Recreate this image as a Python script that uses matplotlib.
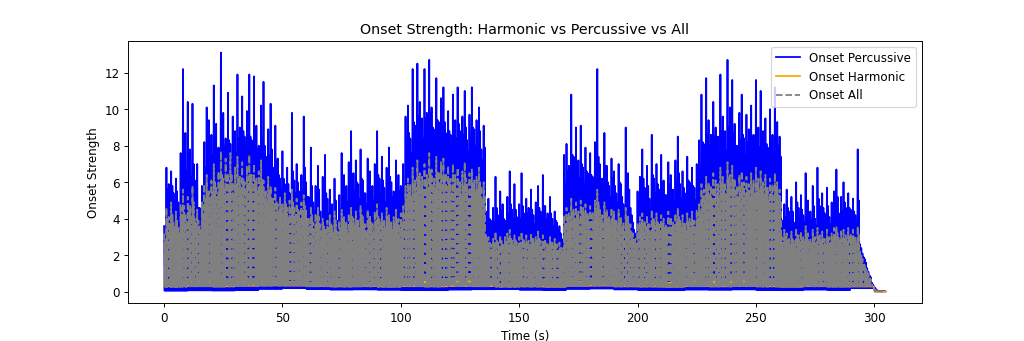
import numpy as np
import matplotlib
matplotlib.use("Agg")
from matplotlib import pyplot as plt

# tallest spike in each second (t = 0 .. 304 s)
PERC_PEAKS = [
    3.6, 6.8, 5.9, 6.6, 5.4, 6.2, 4.9, 7.6, 12.2, 8.7,
    10.4, 7.8, 10.3, 6.1, 7.0, 4.6, 5.8, 8.2, 10.1, 9.4,
    8.6, 11.3, 9.2, 7.9, 13.1, 9.8, 8.4, 10.9, 8.1, 9.6,
    8.8, 11.9, 9.0, 10.7, 8.5, 9.9, 11.9, 8.3, 11.8, 9.1,
    8.0, 10.2, 11.5, 7.4, 8.9, 10.3, 6.8, 9.1, 7.3, 6.2,
    7.7, 5.9, 6.8, 5.4, 9.8, 6.1, 7.0, 5.5, 6.4, 9.6,
    6.0, 5.2, 7.9, 4.9, 5.8, 6.9, 4.4, 6.3, 7.5, 5.1,
    5.6, 4.8, 6.2, 3.9, 5.3, 7.6, 6.4, 5.8, 7.1, 8.8,
    6.5, 7.2, 5.9, 7.8, 6.1, 5.4, 7.3, 6.6, 5.8, 7.0,
    8.8, 6.2, 7.4, 5.7, 6.8, 7.9, 6.0, 5.5, 7.2, 6.4,
    5.8, 7.0, 9.6, 10.2, 8.4, 12.2, 9.1, 12.5, 10.4, 9.5,
    12.2, 9.8, 12.7, 10.1, 8.9, 11.7, 9.3, 10.6, 11.2, 8.7,
    9.9, 8.6, 10.8, 9.4, 11.2, 8.8, 9.6, 11.0, 8.3, 9.7,
    11.2, 8.9, 9.4, 10.1, 7.8, 9.1, 4.4, 5.1, 3.9, 4.6,
    6.3, 4.2, 5.5, 4.8, 3.9, 5.2, 6.6, 4.5, 5.9, 4.1,
    4.8, 6.5, 4.3, 5.1, 4.6, 5.6, 4.2, 4.9, 5.8, 4.4,
    6.4, 4.7, 4.3, 5.2, 4.0, 4.4, 3.8, 3.6, 2.9, 7.5,
    8.1, 6.9, 10.8, 7.4, 9.0, 7.2, 9.1, 6.8, 7.9, 6.5,
    7.6, 6.3, 8.2, 12.2, 7.0, 6.2, 8.7, 6.9, 5.8, 7.3,
    6.6, 5.4, 7.0, 5.9, 4.8, 9.0, 6.5, 4.6, 3.8, 3.2,
    5.5, 6.3, 7.8, 5.7, 6.9, 5.1, 8.6, 6.2, 7.0, 5.6,
    7.5, 6.1, 5.3, 7.1, 6.4, 5.6, 7.2, 8.5, 5.9, 6.6,
    5.4, 7.4, 6.0, 6.8, 5.7, 7.0, 8.3, 10.8, 8.1, 11.7,
    9.4, 8.6, 10.4, 9.0, 8.5, 11.9, 9.6, 8.8, 12.7, 10.1,
    11.6, 9.2, 8.0, 9.8, 10.8, 8.4, 9.7, 8.9, 10.2, 8.6,
    11.6, 9.0, 11.0, 8.8, 9.5, 7.9, 10.0, 8.6, 11.2, 9.3,
    8.5, 3.9, 4.8, 5.6, 4.4, 5.2, 3.8, 6.0, 4.6, 5.3,
    4.2, 6.5, 5.0, 4.4, 5.8, 4.0, 6.8, 4.7, 5.4, 4.3,
    5.7, 4.1, 4.9, 5.5, 6.7, 4.3, 5.2, 6.0, 4.6, 5.4,
    4.5, 5.1, 4.2, 7.8, 2.6, 2.1, 1.8, 1.3, 0.9, 0.5,
    0.3, 0.1, 0.05, 0.05, 0.05,
]

# the dense level the percussive curve keeps hitting in each second
PERC_MIDS = [
    3.0, 5.6, 5.2, 5.8, 4.9, 5.5, 4.6, 6.1, 7.4, 6.6,
    6.9, 6.2, 7.0, 5.3, 4.6, 4.2, 5.1, 6.8, 7.6, 7.9,
    7.5, 8.2, 7.8, 7.1, 8.6, 8.0, 7.4, 8.3, 7.2, 8.1,
    7.6, 8.4, 7.9, 8.8, 7.3, 8.2, 8.5, 7.4, 8.7, 7.8,
    7.1, 8.3, 8.0, 6.7, 7.5, 7.8, 6.0, 7.2, 6.4, 5.6,
    6.2, 5.3, 5.9, 5.0, 6.6, 5.4, 6.0, 4.9, 5.5, 6.8,
    5.2, 4.7, 5.8, 4.4, 5.0, 5.6, 3.9, 4.8, 5.4, 4.3,
    4.6, 4.1, 5.0, 3.4, 4.5, 5.7, 5.3, 4.9, 5.8, 6.3,
    5.5, 6.0, 5.1, 6.2, 5.4, 4.8, 6.0, 5.7, 5.0, 5.9,
    6.4, 5.4, 6.1, 4.9, 5.8, 6.3, 5.2, 4.8, 5.9, 5.5,
    5.0, 5.8, 7.9, 8.7, 7.6, 9.3, 8.2, 9.6, 8.9, 8.4,
    9.5, 8.7, 9.8, 9.0, 8.1, 9.4, 8.5, 9.1, 9.3, 8.0,
    8.8, 7.9, 9.0, 8.4, 9.2, 8.1, 8.6, 9.0, 7.7, 8.5,
    9.0, 8.0, 8.4, 8.8, 7.2, 7.9, 3.6, 4.0, 3.3, 3.8,
    4.6, 3.7, 4.4, 4.0, 3.5, 4.3, 4.8, 3.9, 4.5, 3.6,
    4.0, 4.7, 3.8, 4.3, 3.9, 4.5, 3.7, 4.1, 4.6, 3.8,
    4.7, 4.0, 3.8, 4.3, 3.6, 3.9, 3.4, 3.2, 2.7, 5.9,
    6.6, 5.9, 7.5, 6.3, 7.1, 6.2, 7.0, 5.9, 6.6, 5.8,
    6.4, 5.7, 6.8, 7.4, 6.1, 5.5, 6.9, 6.0, 5.2, 6.2,
    5.8, 4.9, 6.0, 5.2, 4.3, 6.4, 5.6, 4.2, 3.4, 2.9,
    4.8, 5.4, 6.2, 5.0, 5.8, 4.6, 6.4, 5.4, 5.9, 4.9,
    6.0, 5.3, 4.8, 5.9, 5.5, 4.9, 6.0, 6.5, 5.1, 5.7,
    4.8, 6.1, 5.2, 5.8, 5.0, 5.9, 6.6, 8.2, 7.4, 8.6,
    8.0, 7.6, 8.5, 7.9, 7.5, 8.8, 8.2, 7.7, 9.0, 8.4,
    8.7, 8.0, 7.2, 8.3, 8.6, 7.5, 8.2, 7.8, 8.5, 7.6,
    8.8, 7.9, 8.4, 7.7, 8.1, 7.1, 8.3, 7.6, 8.6, 8.0,
    7.4, 3.4, 4.1, 4.6, 3.8, 4.4, 3.5, 4.9, 4.0, 4.5,
    3.8, 5.0, 4.3, 3.9, 4.7, 3.6, 5.1, 4.1, 4.6, 3.8,
    4.7, 3.7, 4.2, 4.6, 5.2, 3.9, 4.4, 4.9, 4.0, 4.6,
    4.0, 4.4, 3.8, 5.0, 2.4, 1.9, 1.6, 1.1, 0.8, 0.4,
    0.2, 0.08, 0.05, 0.05, 0.05,
]

ALL_PEAKS = [
    3.2, 4.6, 4.1, 4.9, 3.8, 4.4, 3.5, 4.8, 5.6, 4.3,
    5.2, 4.7, 5.8, 4.0, 4.5, 3.6, 4.9, 5.9, 6.4, 5.5,
    6.1, 7.0, 5.8, 6.6, 7.7, 6.2, 7.3, 6.5, 7.6, 6.0,
    6.8, 7.4, 6.3, 7.1, 6.0, 6.9, 7.5, 6.4, 7.0, 6.2,
    6.6, 7.2, 6.1, 5.5, 6.3, 5.8, 5.1, 5.7, 4.8, 5.2,
    4.9, 5.4, 4.6, 5.0, 5.6, 4.7, 5.1, 4.4, 4.9, 5.3,
    4.5, 4.1, 4.7, 3.8, 4.3, 4.6, 3.7, 4.0, 3.5, 3.9,
    4.2, 3.6, 4.4, 3.3, 3.9, 4.5, 4.1, 3.8, 4.3, 4.6,
    4.0, 4.4, 3.9, 4.7, 4.1, 3.7, 4.5, 4.2, 3.8, 4.4,
    4.8, 4.0, 4.3, 3.9, 4.6, 4.2, 3.8, 4.1, 4.5, 4.0,
    4.3, 4.7, 5.8, 6.2, 5.9, 6.8, 6.1, 7.2, 6.5, 6.3,
    7.0, 6.4, 7.6, 6.7, 6.2, 7.4, 6.6, 7.1, 7.3, 6.5,
    6.9, 6.2, 7.0, 6.4, 6.8, 6.0, 6.6, 7.1, 5.9, 6.5,
    6.7, 6.1, 6.3, 6.8, 5.8, 6.0, 3.1, 3.0, 2.6, 2.9,
    3.3, 2.8, 3.1, 2.7, 3.0, 3.2, 3.4, 2.8, 3.1, 2.7,
    3.0, 3.3, 2.9, 3.1, 2.8, 3.2, 2.9, 3.0, 3.3, 2.8,
    3.1, 2.9, 2.7, 3.0, 2.8, 2.9, 2.6, 2.7, 2.4, 4.2,
    4.6, 4.3, 5.1, 4.5, 4.9, 4.4, 5.0, 4.6, 4.8, 4.3,
    4.7, 4.4, 5.0, 5.6, 4.6, 4.2, 4.9, 4.5, 4.1, 4.6,
    4.4, 4.0, 4.5, 4.1, 3.8, 4.6, 4.2, 3.7, 3.2, 2.9,
    3.8, 4.1, 4.3, 3.9, 4.2, 3.7, 4.5, 4.0, 4.3, 3.8,
    4.2, 4.0, 3.7, 4.4, 4.1, 3.8, 4.3, 4.6, 3.9, 4.2,
    3.8, 4.3, 4.0, 4.4, 3.9, 4.5, 4.8, 5.9, 5.6, 6.3,
    6.0, 5.8, 6.5, 6.1, 5.9, 6.8, 6.3, 6.0, 7.1, 6.4,
    6.9, 6.2, 5.8, 6.4, 6.6, 6.0, 6.3, 5.9, 6.5, 6.1,
    6.8, 6.2, 6.6, 6.0, 6.4, 5.7, 6.2, 5.9, 6.5, 6.0,
    5.6, 3.0, 3.4, 3.2, 2.9, 3.3, 2.8, 3.5, 3.1, 3.3,
    3.0, 3.6, 3.2, 2.9, 3.4, 3.0, 3.5, 3.1, 3.3, 2.9,
    3.4, 3.0, 3.2, 3.5, 3.6, 3.0, 3.3, 3.4, 3.1, 3.5,
    3.2, 3.4, 3.0, 3.6, 2.2, 1.8, 1.5, 1.1, 0.8, 0.4,
    0.15, 0.05, 0.03, 0.03, 0.03,
]

ALL_MIDS = [
    2.8, 4.0, 3.7, 4.3, 3.5, 3.9, 3.2, 4.2, 4.7, 3.9,
    4.5, 4.2, 4.9, 3.7, 3.9, 3.3, 4.3, 5.1, 5.5, 4.9,
    5.4, 6.1, 5.2, 5.8, 6.4, 5.6, 6.2, 5.8, 6.5, 5.4,
    5.9, 6.3, 5.6, 6.2, 5.4, 6.0, 6.4, 5.7, 6.1, 5.5,
    5.8, 6.2, 5.4, 4.9, 5.5, 5.1, 4.6, 5.0, 4.3, 4.6,
    4.4, 4.8, 4.1, 4.5, 4.9, 4.2, 4.5, 4.0, 4.4, 4.7,
    4.0, 3.7, 4.2, 3.4, 3.8, 4.1, 3.3, 3.6, 3.2, 3.5,
    3.7, 3.3, 3.9, 3.0, 3.5, 4.0, 3.7, 3.4, 3.8, 4.1,
    3.6, 3.9, 3.5, 4.2, 3.7, 3.3, 4.0, 3.8, 3.4, 3.9,
    4.2, 3.6, 3.8, 3.5, 4.1, 3.8, 3.4, 3.7, 4.0, 3.6,
    3.8, 4.2, 5.1, 5.5, 5.2, 6.0, 5.4, 6.3, 5.8, 5.6,
    6.2, 5.7, 6.6, 5.9, 5.5, 6.5, 5.8, 6.2, 6.4, 5.7,
    6.1, 5.5, 6.2, 5.7, 6.0, 5.3, 5.8, 6.2, 5.2, 5.7,
    5.9, 5.4, 5.6, 6.0, 5.1, 5.3, 2.8, 2.7, 2.4, 2.6,
    2.9, 2.5, 2.8, 2.4, 2.7, 2.9, 3.0, 2.5, 2.8, 2.4,
    2.7, 2.9, 2.6, 2.8, 2.5, 2.9, 2.6, 2.7, 2.9, 2.5,
    2.8, 2.6, 2.4, 2.7, 2.5, 2.6, 2.3, 2.4, 2.2, 3.7,
    4.1, 3.8, 4.5, 4.0, 4.3, 3.9, 4.4, 4.1, 4.2, 3.8,
    4.2, 3.9, 4.4, 4.9, 4.1, 3.7, 4.3, 4.0, 3.6, 4.1,
    3.9, 3.6, 4.0, 3.6, 3.4, 4.1, 3.7, 3.3, 2.9, 2.6,
    3.4, 3.6, 3.8, 3.5, 3.7, 3.3, 4.0, 3.6, 3.8, 3.4,
    3.7, 3.5, 3.3, 3.9, 3.6, 3.4, 3.8, 4.1, 3.5, 3.7,
    3.4, 3.8, 3.5, 3.9, 3.5, 4.0, 4.3, 5.2, 5.0, 5.6,
    5.3, 5.1, 5.7, 5.4, 5.2, 6.0, 5.6, 5.3, 6.2, 5.7,
    6.1, 5.5, 5.1, 5.7, 5.8, 5.3, 5.6, 5.2, 5.8, 5.4,
    6.0, 5.5, 5.8, 5.3, 5.7, 5.0, 5.5, 5.2, 5.8, 5.3,
    5.0, 2.7, 3.0, 2.8, 2.6, 2.9, 2.5, 3.1, 2.8, 2.9,
    2.7, 3.2, 2.8, 2.6, 3.0, 2.7, 3.1, 2.8, 2.9, 2.6,
    3.0, 2.7, 2.8, 3.1, 3.2, 2.7, 2.9, 3.0, 2.8, 3.1,
    2.8, 3.0, 2.7, 3.2, 2.0, 1.6, 1.3, 1.0, 0.7, 0.35,
    0.12, 0.05, 0.03, 0.03, 0.03,
]

# harmonic peaks and the troughs of every curve, one value per 10 s
HARM_PEAKS_10S = [
    0.6, 0.65, 0.7, 0.65, 0.6, 0.55, 0.5, 0.55, 0.5, 0.55,
    0.6, 0.65, 0.65, 0.6, 0.45, 0.5, 0.45, 0.55, 0.55, 0.5,
    0.55, 0.5, 0.55, 0.65, 0.7, 0.65, 0.5, 0.45, 0.5, 0.3,
    0.03,
]
PERC_FLOOR_10S = [
    0.06, 0.08, 0.07, 0.09, 0.16, 0.2, 0.15, 0.12, 0.13, 0.11,
    0.1, 0.09, 0.12, 0.14, 0.15, 0.11, 0.1, 0.16, 0.18, 0.13,
    0.1, 0.09, 0.12, 0.11, 0.13, 0.1, 0.09, 0.12, 0.1, 0.2,
    0.02,
]
ALL_FLOOR_10S = [
    0.26, 0.3, 0.28, 0.31, 0.33, 0.35, 0.3, 0.28, 0.29, 0.27,
    0.3, 0.28, 0.31, 0.3, 0.27, 0.28, 0.26, 0.32, 0.33, 0.29,
    0.28, 0.27, 0.3, 0.29, 0.31, 0.28, 0.27, 0.3, 0.28, 0.3,
    0.02,
]
HARM_FLOOR_10S = [
    0.3, 0.32, 0.3, 0.33, 0.35, 0.34, 0.31, 0.3, 0.31, 0.29,
    0.31, 0.3, 0.32, 0.31, 0.29, 0.3, 0.28, 0.33, 0.34, 0.3,
    0.29, 0.28, 0.31, 0.3, 0.32, 0.3, 0.28, 0.31, 0.29, 0.3,
    0.02,
]


def frames(peaks, mids, floor):
    # each second: spike, trough, dense-level hit, trough
    peaks = np.asarray(peaks, dtype=float)
    mids = np.asarray(mids, dtype=float)
    floor = np.repeat(np.asarray(floor, dtype=float), 10)[: len(peaks)]
    out = np.empty(4 * len(peaks))
    out[0::4] = peaks
    out[1::4] = floor
    out[2::4] = mids
    out[3::4] = floor
    return out


n = len(PERC_PEAKS)
times = np.arange(4 * n) * 0.25
harm_peaks = np.repeat(HARM_PEAKS_10S, 10)[:n]
onset_perc = frames(PERC_PEAKS, PERC_MIDS, PERC_FLOOR_10S)
onset_all = frames(ALL_PEAKS, ALL_MIDS, ALL_FLOOR_10S)
onset_harm = frames(harm_peaks, harm_peaks, HARM_FLOOR_10S)

fig, ax = plt.subplots(figsize=(12, 4), dpi=1024 / 12)
ax.plot(times, onset_perc, label="Onset Percussive", color="blue")
ax.plot(times, onset_harm, label="Onset Harmonic", color="orange")
ax.plot(times, onset_all, label="Onset All", color="gray", linestyle="--")
ax.set_title("Onset Strength: Harmonic vs Percussive vs All")
ax.set_xlabel("Time (s)")
ax.set_ylabel("Onset Strength")
ax.legend(loc="upper right")
fig.savefig("out.png", dpi=1024 / 12)
plt.close(fig)
